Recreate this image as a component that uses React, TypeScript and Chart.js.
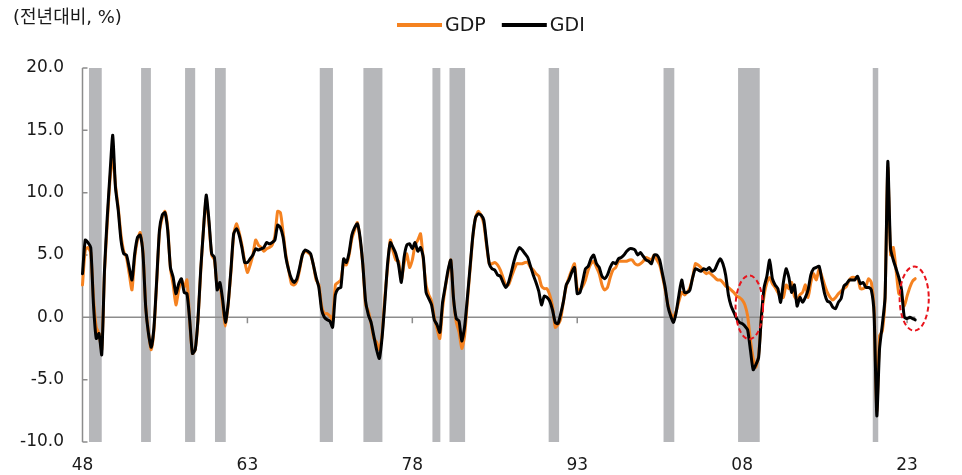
import React, { useEffect, useRef } from 'react';
import { Chart, registerables } from 'chart.js';

Chart.register(...registerables);

// ---------- categories ----------
const firstYear = 1948;
const lastYear = 2023;
const quarterNames = ['Q1', 'Q2', 'Q3', 'Q4'];
const quarterLabels: string[] = [];
for (let yr = firstYear; yr <= lastYear; yr++) {
  for (const q of quarterNames) quarterLabels.push(`${yr}${q}`);
}

// ---------- series (YoY %, quarterly, 1948Q1 - 2023Q4) ----------
const gdpYoY = [
  2.6, 5.4, 5.6, 5.2, // 1948
  1.5, -0.8, -1.3, -2.6, // 1949
  3.6, 7.5, 11.0, 13.0, // 1950
  10.6, 8.8, 6.6, 5.3, // 1951
  4.8, 3.5, 2.2, 4.8, // 1952
  6.2, 6.8, 5.3, 0.9, // 1953
  -1.2, -2.6, -1.0, 2.8, // 1954
  6.8, 8.0, 8.5, 7.2, // 1955
  3.9, 2.6, 1.0, 2.2, // 1956
  3.0, 2.4, 3.0, -0.3, // 1957
  -2.9, -2.6, -0.3, 3.6, // 1958
  7.0, 9.5, 7.5, 5.0, // 1959
  4.6, 2.5, 2.6, 1.0, // 1960
  -0.7, 1.0, 3.6, 6.6, // 1961
  7.5, 6.8, 5.8, 4.5, // 1962
  3.6, 4.2, 5.0, 6.2, // 1963
  5.8, 5.6, 5.3, 5.5, // 1964
  5.6, 5.8, 6.5, 8.5, // 1965
  8.4, 6.8, 5.0, 3.8, // 1966
  2.7, 2.6, 2.9, 3.8, // 1967
  5.0, 5.3, 5.2, 5.0, // 1968
  4.2, 3.0, 2.6, 0.9, // 1969
  0.3, 0.3, 0.1, -0.2, // 1970
  2.6, 2.8, 3.0, 4.3, // 1971
  4.2, 5.0, 6.3, 7.0, // 1972
  7.6, 6.2, 4.2, 1.0, // 1973
  0.5, -0.5, -1.7, -2.0, // 1974
  -2.6, -1.4, 1.6, 4.0, // 1975
  6.2, 5.3, 4.6, 4.5, // 1976
  3.0, 4.3, 5.1, 4.0, // 1977
  4.6, 5.8, 6.2, 6.7, // 1978
  4.6, 2.6, 1.8, 1.3, // 1979
  0.0, -0.9, -1.7, 0.7, // 1980
  2.4, 3.6, 4.6, 1.4, // 1981
  -0.4, -1.2, -2.5, -1.5, // 1982
  1.2, 3.8, 6.4, 8.0, // 1983
  8.5, 8.2, 7.5, 5.8, // 1984
  4.3, 4.3, 4.4, 4.2, // 1985
  3.8, 3.2, 2.6, 2.6, // 1986
  3.2, 3.8, 4.3, 4.3, // 1987
  4.3, 4.4, 4.4, 4.0, // 1988
  3.8, 3.5, 3.3, 2.5, // 1989
  2.3, 2.3, 1.8, 0.9, // 1990
  -0.8, -0.6, -0.1, 1.3, // 1991
  2.5, 3.2, 3.8, 4.3, // 1992
  2.3, 2.2, 2.5, 3.0, // 1993
  3.8, 4.3, 4.5, 4.0, // 1994
  3.5, 2.6, 2.2, 2.4, // 1995
  3.2, 3.8, 4.0, 4.5, // 1996
  4.5, 4.5, 4.5, 4.6, // 1997
  4.6, 4.3, 4.2, 4.3, // 1998
  4.5, 4.8, 4.7, 4.6, // 1999
  5.0, 4.6, 4.2, 3.3, // 2000
  2.2, 1.0, 0.3, 0.0, // 2001
  0.5, 1.3, 2.0, 1.8, // 2002
  2.0, 2.4, 3.2, 4.3, // 2003
  4.2, 4.0, 3.7, 3.5, // 2004
  3.6, 3.4, 3.2, 3.0, // 2005
  3.0, 2.8, 2.5, 2.4, // 2006
  2.2, 2.0, 1.7, 1.6, // 2007
  1.4, 1.0, 0.1, -1.8, // 2008
  -3.3, -4.0, -3.0, 0.0, // 2009
  1.8, 2.8, 3.2, 2.7, // 2010
  2.4, 2.0, 1.6, 1.6, // 2011
  2.6, 2.3, 2.8, 1.7, // 2012
  1.4, 1.8, 2.0, 2.6, // 2013
  1.6, 2.8, 3.5, 3.0, // 2014
  3.9, 3.3, 2.6, 2.0, // 2015
  1.6, 1.4, 1.6, 1.9, // 2016
  2.1, 2.3, 2.5, 3.0, // 2017
  3.2, 3.2, 3.2, 2.3, // 2018
  2.3, 2.5, 3.1, 2.8, // 2019
  0.8, -7.5, -1.5, -1.1, // 2020
  1.6, 12.0, 5.0, 5.6, // 2021
  3.8, 1.9, 1.7, 0.9, // 2022
  1.7, 2.4, 2.9, 3.1, // 2023
];

const gdiYoY = [
  3.5, 6.2, 6.0, 5.6, // 1948
  1.0, -1.7, -1.3, -3.0, // 1949
  3.8, 8.0, 11.5, 14.6, // 1950
  10.4, 8.6, 6.2, 5.1, // 1951
  5.0, 4.0, 3.0, 5.1, // 1952
  6.4, 6.6, 5.1, 0.8, // 1953
  -1.3, -2.4, -0.8, 3.0, // 1954
  7.0, 8.2, 8.4, 7.0, // 1955
  4.0, 3.2, 1.9, 2.7, // 1956
  3.1, 2.0, 1.9, -0.2, // 1957
  -2.9, -2.6, -0.2, 3.8, // 1958
  7.0, 9.8, 7.8, 5.1, // 1959
  4.8, 2.2, 2.8, 1.4, // 1960
  -0.4, 1.1, 3.8, 6.7, // 1961
  7.1, 6.6, 5.6, 4.4, // 1962
  4.4, 4.7, 5.0, 5.5, // 1963
  5.4, 5.5, 5.6, 6.0, // 1964
  5.9, 6.0, 6.2, 7.4, // 1965
  7.2, 6.4, 4.8, 3.8, // 1966
  3.1, 2.8, 3.1, 4.0, // 1967
  5.0, 5.4, 5.3, 5.1, // 1968
  4.2, 3.2, 2.4, 0.6, // 1969
  0.0, -0.2, -0.3, -0.8, // 1970
  1.8, 2.3, 2.4, 4.7, // 1971
  4.4, 5.2, 6.6, 7.2, // 1972
  7.5, 6.4, 4.2, 1.3, // 1973
  0.2, -0.4, -1.5, -2.6, // 1974
  -3.3, -1.6, 1.2, 4.3, // 1975
  6.0, 5.6, 5.1, 4.2, // 1976
  2.8, 4.8, 5.8, 5.9, // 1977
  5.5, 6.0, 5.3, 5.6, // 1978
  4.8, 2.0, 1.5, 1.0, // 1979
  -0.2, -0.6, -1.2, 1.2, // 1980
  2.5, 3.8, 4.6, 1.5, // 1981
  -0.1, -0.3, -1.9, -0.8, // 1982
  1.5, 4.0, 6.5, 8.0, // 1983
  8.3, 8.2, 7.8, 6.0, // 1984
  4.3, 3.9, 3.8, 3.4, // 1985
  3.3, 2.8, 2.4, 2.8, // 1986
  3.6, 4.5, 5.2, 5.6, // 1987
  5.4, 5.1, 4.8, 4.1, // 1988
  3.4, 2.8, 2.1, 1.0, // 1989
  1.7, 1.6, 1.3, 0.6, // 1990
  -0.4, -0.5, 0.3, 1.3, // 1991
  2.6, 3.0, 3.6, 4.0, // 1992
  1.9, 2.0, 2.9, 3.9, // 1993
  4.1, 4.7, 5.0, 4.3, // 1994
  4.0, 3.3, 3.1, 3.4, // 1995
  4.0, 4.4, 4.3, 4.7, // 1996
  4.8, 5.0, 5.3, 5.5, // 1997
  5.5, 5.4, 5.0, 5.2, // 1998
  4.9, 4.6, 4.5, 4.3, // 1999
  5.0, 5.0, 4.6, 3.5, // 2000
  2.4, 0.9, 0.1, -0.4, // 2001
  0.4, 1.8, 3.0, 2.0, // 2002
  2.0, 2.2, 3.2, 3.9, // 2003
  3.8, 3.7, 3.9, 3.8, // 2004
  4.0, 3.7, 3.8, 4.3, // 2005
  4.7, 4.3, 3.4, 1.8, // 2006
  0.9, 0.4, -0.1, -0.4, // 2007
  -0.5, -0.7, -1.0, -2.6, // 2008
  -4.2, -3.8, -3.2, 0.1, // 2009
  2.4, 3.3, 4.6, 3.1, // 2010
  2.6, 2.3, 1.2, 2.8, // 2011
  3.9, 3.2, 2.0, 2.6, // 2012
  0.9, 1.6, 1.2, 1.6, // 2013
  2.2, 3.4, 3.9, 4.0, // 2014
  4.1, 3.0, 1.9, 1.3, // 2015
  1.2, 0.8, 0.7, 1.2, // 2016
  1.5, 2.5, 2.7, 3.0, // 2017
  3.0, 3.0, 3.3, 2.7, // 2018
  2.8, 2.4, 2.4, 2.2, // 2019
  0.3, -7.9, -2.5, -0.6, // 2020
  1.6, 12.5, 5.5, 4.6, // 2021
  3.9, 3.2, 2.2, 0.0, // 2022
  -0.1, 0.0, -0.1, -0.2, // 2023
];

// ---------- axis ticks ----------
const xTickYears = [1948, 1963, 1978, 1993, 2008, 2023];
const xTickLabels = ['48', '63', '78', '93', '08', '23'];
const yTickValues = [-10, -5, 0, 5, 10, 15, 20];

// ---------- recession shading (decimal years) ----------
const recessionFrom = [1948.59, 1953.33, 1957.33, 1960.05, 1969.58, 1973.55, 1979.83, 1981.38, 1990.4, 2000.85, 2007.63, 2019.88];
const recessionTo = [1949.75, 1954.22, 1958.25, 1961.03, 1970.78, 1975.28, 1980.55, 1982.8, 1991.35, 2001.83, 2009.6, 2020.38];

// ---------- highlighted periods (dashed ellipses) ----------
const highlightYear = [2008.65, 2023.65];
const highlightValue = [0.8, 1.5];
const highlightQuarterRadius = [5.0, 5.3];
const highlightValueRadius = [2.55, 2.57];

const TITLE = '(전년대비, %)';
const FONT = "'DejaVu Sans', 'Noto Sans CJK KR', sans-serif";
const TEXT_COLOR = '#1a1a1a';
const AXIS_COLOR = '#8c8c8c';

const yearToIndex = (yr: number) => (yr - firstYear) * 4;

const decorPlugin = {
  id: 'decor',
  beforeDatasetsDraw(chart: any) {
    const { ctx, chartArea: a, scales } = chart;
    const x = scales.x;
    const y = scales.y;
    ctx.save();
    ctx.fillStyle = '#b6b7ba';
    for (let i = 0; i < recessionFrom.length; i++) {
      const x0 = x.getPixelForValue(yearToIndex(recessionFrom[i]));
      const x1 = x.getPixelForValue(yearToIndex(recessionTo[i]));
      ctx.fillRect(x0, a.top, x1 - x0, a.bottom - a.top);
    }
    ctx.strokeStyle = AXIS_COLOR;
    ctx.lineWidth = 1.5;
    ctx.beginPath();
    ctx.moveTo(a.left, a.top);
    ctx.lineTo(a.left, a.bottom);
    for (const v of yTickValues) {
      const py = y.getPixelForValue(v);
      ctx.moveTo(a.left, py);
      ctx.lineTo(a.left + 5, py);
    }
    const y0 = y.getPixelForValue(0);
    ctx.moveTo(a.left, y0);
    ctx.lineTo(a.right, y0);
    for (const yr of xTickYears) {
      const px = x.getPixelForValue(yearToIndex(yr));
      ctx.moveTo(px, y0);
      ctx.lineTo(px, y0 + 6);
    }
    ctx.stroke();
    ctx.restore();
  },
  afterDatasetsDraw(chart: any) {
    const { ctx, scales } = chart;
    const x = scales.x;
    const y = scales.y;
    ctx.save();
    ctx.strokeStyle = '#e8141c';
    ctx.lineWidth = 2;
    ctx.setLineDash([5, 3]);
    for (let i = 0; i < highlightYear.length; i++) {
      const idx = yearToIndex(highlightYear[i]);
      const cx = x.getPixelForValue(idx);
      const cy = y.getPixelForValue(highlightValue[i]);
      const rx = x.getPixelForValue(idx + highlightQuarterRadius[i]) - cx;
      const ry = y.getPixelForValue(highlightValue[i] - highlightValueRadius[i]) - cy;
      ctx.beginPath();
      ctx.ellipse(cx, cy, rx, ry, 0, 0, Math.PI * 2);
      ctx.stroke();
    }
    ctx.restore();
  },
  afterDraw(chart: any) {
    const { ctx } = chart;
    ctx.save();
    // title
    ctx.font = `18px ${FONT}`;
    ctx.fillStyle = TEXT_COLOR;
    ctx.textBaseline = 'middle';
    ctx.textAlign = 'left';
    ctx.fillText(TITLE, 13, 18.5);
    // legend
    ctx.font = `19px ${FONT}`;
    let lx = 397;
    const ly = 25;
    chart.data.datasets.forEach((ds: any) => {
      ctx.strokeStyle = ds.borderColor;
      ctx.lineWidth = 4;
      ctx.setLineDash([]);
      ctx.beginPath();
      ctx.moveTo(lx, ly);
      ctx.lineTo(lx + 45, ly);
      ctx.stroke();
      ctx.fillStyle = TEXT_COLOR;
      ctx.fillText(ds.label, lx + 48, ly + 1);
      lx += 48 + ctx.measureText(ds.label).width + 16;
    });
    ctx.restore();
  },
};

export default function App() {
  const canvasRef = useRef<HTMLCanvasElement | null>(null);

  useEffect(() => {
    if (!canvasRef.current) return;
    const chart = new Chart(canvasRef.current, {
      type: 'line',
      data: {
        labels: quarterLabels,
        datasets: [
          {
            label: 'GDP',
            data: gdpYoY,
            borderColor: '#f58220',
            backgroundColor: '#f58220',
            borderWidth: 3,
            pointRadius: 0,
            tension: 0.2,
            borderJoinStyle: 'round',
            borderCapStyle: 'round',
            order: 2,
          },
          {
            label: 'GDI',
            data: gdiYoY,
            borderColor: '#000000',
            backgroundColor: '#000000',
            borderWidth: 3,
            pointRadius: 0,
            tension: 0.2,
            borderJoinStyle: 'round',
            borderCapStyle: 'round',
            order: 1,
          },
        ],
      },
      options: {
        responsive: false,
        animation: false,
        events: [],
        layout: { padding: { top: 68, right: 46.7, left: 0, bottom: 0 } },
        plugins: {
          legend: { display: false },
          title: { display: false },
          tooltip: { enabled: false },
        },
        scales: {
          x: {
            type: 'category',
            grid: { display: false, drawTicks: false },
            border: { display: false },
            ticks: {
              autoSkip: false,
              maxRotation: 0,
              minRotation: 0,
              padding: 13,
              color: TEXT_COLOR,
              font: { family: FONT, size: 17 },
              callback: (_v: any, i: number) => {
                const yr = firstYear + Math.floor(i / 4);
                const k = xTickYears.indexOf(yr);
                return i % 4 === 0 && k >= 0 ? xTickLabels[k] : '';
              },
            },
            afterFit: (s: any) => {
              s.height = 33;
            },
          },
          y: {
            min: -10,
            max: 20,
            grid: { display: false, drawTicks: false },
            border: { display: false },
            ticks: {
              stepSize: 5,
              padding: 18.5,
              color: TEXT_COLOR,
              font: { family: FONT, size: 17 },
              callback: (v: any) => Number(v).toFixed(1),
            },
            afterFit: (s: any) => {
              s.width = 82.5;
            },
          },
        },
      },
      plugins: [decorPlugin],
    });
    return () => chart.destroy();
  }, []);

  return (
    <div style={{ position: 'fixed', left: 0, top: 0, width: 962, height: 475, background: '#fff' }}>
      <canvas ref={canvasRef} width={962} height={475} style={{ display: 'block' }} />
    </div>
  );
}
